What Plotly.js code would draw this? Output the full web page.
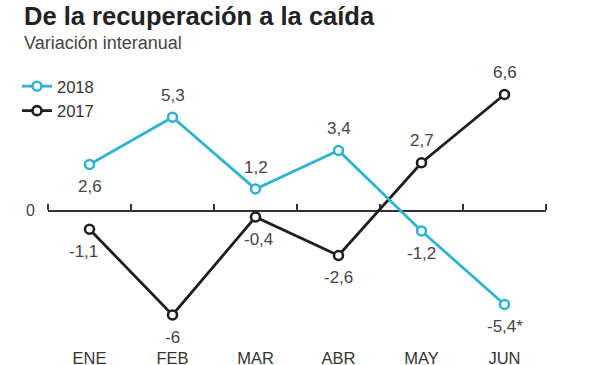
<!DOCTYPE html>
<html>
<head>
<meta charset="utf-8">
<script src="https://cdn.plot.ly/plotly-3.0.1.min.js"></script>
<style>html,body{margin:0;padding:0;background:#fff;}#chart{width:600px;height:365px;}</style>
</head>
<body>
<div id="chart"></div>
<script>
// Data
var months = ['ENE', 'FEB', 'MAR', 'ABR', 'MAY', 'JUN'];
var values2018 = [2.6, 5.3, 1.2, 3.4, -1.2, -5.4];
var values2017 = [-1.1, -6, -0.4, -2.6, 2.7, 6.6];
var notes2018 = ['', '', '', '', '', '*'];
var notes2017 = ['', '', '', '', '', ''];

// Label placement styling (1 = above, -1 = below)
var side2018 = [-1, 1, 1, 1, -1, -1];
var side2017 = [-1, -1, -1, -1, 1, 1];
var xshift2017 = [-6, 0, 3, 0, 0, 0];

var cyan = '#2fb3cf';
var dark = '#1e1e1e';
var FONT = 'Liberation Sans, Arial, sans-serif';

function fmt(v) { return String(v).replace('.', ','); }

var annotations = [];
function addLabels(vals, notes, sides, xs) {
  for (var i = 0; i < vals.length; i++) {
    annotations.push({
      x: months[i], y: vals[i], xref: 'x', yref: 'y',
      text: fmt(vals[i]) + notes[i], showarrow: false,
      yshift: sides[i] * 22, xshift: xs ? xs[i] : 0,
      font: {family: FONT, size: 17, color: '#444'}
    });
  }
}
addLabels(values2018, notes2018, side2018, null);
addLabels(values2017, notes2017, side2017, xshift2017);

annotations.push({
  xref: 'paper', yref: 'paper', x: (23 - 48) / 498, y: (340 - 1) / 280,
  xanchor: 'left', yanchor: 'top', showarrow: false, borderpad: 0,
  text: '<b>De la recuperación a la caída</b>',
  font: {family: FONT, size: 25.5, color: '#222'}
});
annotations.push({
  xref: 'paper', yref: 'paper', x: (23 - 48) / 498, y: (340 - 32) / 280,
  xanchor: 'left', yanchor: 'top', showarrow: false, borderpad: 0,
  text: 'Variación interanual',
  font: {family: FONT, size: 18, color: '#444'}
});

var traces = [
  {
    x: months, y: values2017, name: '2017', type: 'scatter', mode: 'lines+markers',
    line: {color: dark, width: 2.8},
    marker: {symbol: 'circle', size: 9, color: '#fff', line: {color: dark, width: 2.6}},
    hoverinfo: 'skip'
  },
  {
    x: months, y: values2018, name: '2018', type: 'scatter', mode: 'lines+markers',
    line: {color: cyan, width: 2.8},
    marker: {symbol: 'circle', size: 9, color: '#fff', line: {color: cyan, width: 2.6}},
    hoverinfo: 'skip'
  },
  {
    x: months, y: months.map(function(){return null;}), xaxis: 'x2', yaxis: 'y',
    mode: 'lines', showlegend: false, hoverinfo: 'skip'
  }
];

var layout = {
  width: 600, height: 365,
  margin: {l: 48, r: 54, t: 60, b: 25},
  paper_bgcolor: '#fff', plot_bgcolor: '#fff',
  font: {family: FONT, color: '#333'},
  showlegend: true,
  legend: {
    x: (17 - 48) / 498, y: 0.968, xanchor: 'left', yanchor: 'top',
    traceorder: 'reversed', bgcolor: 'rgba(0,0,0,0)',
    font: {family: FONT, size: 16.5, color: '#333'}
  },
  xaxis: {
    type: 'category', categoryarray: months, range: [-0.5, 5.5],
    showline: false, showgrid: false, zeroline: false, ticks: '',
    tickfont: {family: FONT, size: 16.5, color: '#333'}, ticklabelstandoff: 6,
    fixedrange: true
  },
  xaxis2: {
    type: 'category', categoryarray: months, range: [-0.5, 5.5],
    overlaying: 'x', anchor: 'free', position: (340 - 210) / 280, side: 'top',
    showline: true, linecolor: '#333', linewidth: 1.5,
    ticks: 'outside', tickson: 'boundaries', ticklen: 6, tickwidth: 1.5, tickcolor: '#333',
    showticklabels: false, showgrid: false, zeroline: false, layer: 'below traces'
  },
  yaxis: {
    range: [-7.4286, 8.5714], tickvals: [0], ticktext: ['0'],
    showgrid: false, zeroline: false, showline: false, ticks: '',
    tickfont: {family: FONT, size: 16, color: '#444'}, ticklabelstandoff: 12,
    fixedrange: true
  },
  annotations: annotations
};

Plotly.newPlot('chart', traces, layout, {displayModeBar: false, staticPlot: true});
</script>
</body>
</html>
